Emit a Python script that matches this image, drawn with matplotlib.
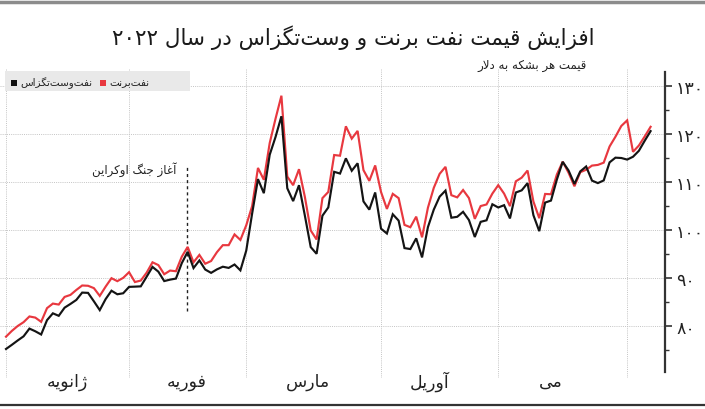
import re
import numpy as np
import pandas as pd
import matplotlib
matplotlib.use("Agg")
import matplotlib.pyplot as plt
import matplotlib.transforms as mtransforms
from matplotlib.lines import Line2D
from matplotlib.patches import Rectangle

# ---------------- data ----------------
trading_days = pd.bdate_range("2021-12-31", "2022-06-06").drop(pd.Timestamp("2022-04-15"))

brent = [77.78, 78.98, 80.00, 80.80, 81.99, 81.75, 80.87, 83.72, 84.67, 84.47,
         86.06, 86.48, 87.51, 88.44, 88.38, 87.89, 86.27, 88.20, 89.96, 89.34,
         90.03, 91.21, 89.16, 89.47, 91.11, 93.27, 92.69, 90.78, 91.55, 91.41,
         94.44, 96.48, 93.28, 94.81, 92.97, 93.54, 95.39, 96.84, 96.84, 99.08,
         97.93, 100.99, 104.97, 112.93, 110.46, 118.11, 123.21, 127.98, 111.14, 109.33,
         112.67, 106.90, 99.91, 98.02, 106.64, 107.93, 115.62, 115.48, 121.60, 119.03,
         120.65, 112.48, 110.23, 113.45, 107.91, 104.39, 107.53, 106.64, 101.07, 100.58,
         102.78, 98.48, 104.64, 108.78, 111.70, 113.16, 107.25, 106.80, 108.33, 106.65,
         102.32, 104.99, 105.32, 107.59, 109.34, 107.58, 104.97, 110.14, 110.90, 112.39,
         105.94, 102.46, 107.51, 107.45, 111.55, 114.24, 111.93, 109.11, 112.04, 112.55,
         113.42, 113.56, 114.03, 117.40, 119.43, 121.67, 122.84, 116.29, 117.60, 119.50,
         121.50]

wti = [75.21, 76.08, 76.99, 77.85, 79.46, 78.90, 78.23, 81.22, 82.64, 82.12,
       83.82, 84.60, 85.43, 86.96, 86.90, 85.14, 83.31, 85.60, 87.35, 86.61,
       86.82, 88.15, 88.20, 88.26, 90.27, 92.31, 91.32, 89.36, 89.66, 89.88,
       93.10, 95.46, 92.07, 93.66, 91.76, 91.07, 91.80, 92.35, 92.10, 92.81,
       91.59, 95.72, 103.41, 110.60, 107.67, 115.68, 119.40, 123.70, 108.70, 106.02,
       109.33, 103.01, 96.44, 95.04, 102.98, 104.70, 112.12, 111.76, 114.93, 112.34,
       113.90, 105.96, 104.24, 107.82, 100.28, 99.27, 103.28, 101.96, 96.23, 96.03,
       98.26, 94.29, 100.60, 104.25, 106.95, 108.21, 102.56, 102.75, 103.79, 102.07,
       98.54, 101.70, 102.02, 105.36, 104.69, 105.17, 102.41, 107.81, 108.26, 109.77,
       103.09, 99.76, 105.71, 106.13, 110.49, 114.20, 112.40, 109.59, 112.21, 113.23,
       110.29, 109.77, 110.33, 114.09, 115.07, 115.00, 114.67, 115.26, 116.50, 118.60,
       120.60]

months = ["ژانویه", "فوریه", "مارس", "آوریل", "می"]
y_ticks = [80, 90, 100, 110, 120, 130]
y_tick_labels = ["۸۰", "۹۰", "۱۰۰", "۱۱۰", "۱۲۰", "۱۳۰"]
title_text = "افزایش قیمت نفت برنت و وست‌تگزاس در سال ۲۰۲۲"
unit_text = "قیمت هر بشکه به دلار"
label_brent = "نفت‌برنت"
label_wti = "نفت‌وست‌تگزاس"
war_text = "آغاز جنگ اوکراین"

# ---------------- simple Persian shaping (visual order) ----------------
FORMS = {
    '\u0622': ('\uFE81', '\uFE82', None, None),
    '\u0627': ('\uFE8D', '\uFE8E', None, None),
    '\u0628': ('\uFE8F', '\uFE90', '\uFE91', '\uFE92'),
    '\u067E': ('\uFB56', '\uFB57', '\uFB58', '\uFB59'),
    '\u062A': ('\uFE95', '\uFE96', '\uFE97', '\uFE98'),
    '\u062C': ('\uFE9D', '\uFE9E', '\uFE9F', '\uFEA0'),
    '\u0686': ('\uFB7A', '\uFB7B', '\uFB7C', '\uFB7D'),
    '\u062F': ('\uFEA9', '\uFEAA', None, None),
    '\u0631': ('\uFEAD', '\uFEAE', None, None),
    '\u0632': ('\uFEAF', '\uFEB0', None, None),
    '\u0698': ('\uFB8A', '\uFB8B', None, None),
    '\u0633': ('\uFEB1', '\uFEB2', '\uFEB3', '\uFEB4'),
    '\u0634': ('\uFEB5', '\uFEB6', '\uFEB7', '\uFEB8'),
    '\u063A': ('\uFECD', '\uFECE', '\uFECF', '\uFED0'),
    '\u0641': ('\uFED1', '\uFED2', '\uFED3', '\uFED4'),
    '\u0642': ('\uFED5', '\uFED6', '\uFED7', '\uFED8'),
    '\u06A9': ('\uFB8E', '\uFB8F', '\uFB90', '\uFB91'),
    '\u06AF': ('\uFB92', '\uFB93', '\uFB94', '\uFB95'),
    '\u0644': ('\uFEDD', '\uFEDE', '\uFEDF', '\uFEE0'),
    '\u0645': ('\uFEE1', '\uFEE2', '\uFEE3', '\uFEE4'),
    '\u0646': ('\uFEE5', '\uFEE6', '\uFEE7', '\uFEE8'),
    '\u0647': ('\uFEE9', '\uFEEA', '\uFEEB', '\uFEEC'),
    '\u0648': ('\uFEED', '\uFEEE', None, None),
    '\u06CC': ('\uFBFC', '\uFBFD', '\uFBFE', '\uFBFF'),
}
LAM_ALEF = {'\u0627': ('\uFEFB', '\uFEFC'), '\u0622': ('\uFEF5', '\uFEF6')}


def _joins_next(c):
    return c in FORMS and FORMS[c][2] is not None


def _shape(s):
    s = s.replace('\u064A', '\u06CC').replace('\u0643', '\u06A9')
    out, i, n = [], 0, len(s)
    while i < n:
        c = s[i]
        if c not in FORMS:
            out.append(c)
            i += 1
            continue
        prev = s[i - 1] if i > 0 else ''
        cp = _joins_next(prev)
        if c == '\u0644' and i + 1 < n and s[i + 1] in LAM_ALEF:
            lig = LAM_ALEF[s[i + 1]]
            out.append(lig[1] if cp else lig[0])
            i += 2
            continue
        nxt = s[i + 1] if i + 1 < n else ''
        cn = _joins_next(c) and nxt in FORMS
        iso, fin, ini, med = FORMS[c]
        out.append(med if (cp and cn) else fin if cp else ini if cn else iso)
        i += 1
    return ''.join(out).replace('\u200c', '')


def fa(s):
    shaped = _shape(s)
    toks = re.findall(r'[0-9\u06F0-\u06F9]+|[^0-9\u06F0-\u06F9]+', shaped)
    res = []
    for t in reversed(toks):
        res.append(t if re.match(r'[0-9\u06F0-\u06F9]', t) else t[::-1])
    return ''.join(res)


plt.rcParams['font.family'] = ['DejaVu Sans']

# ---------------- figure ----------------
W, H = 705, 410
fig = plt.figure(figsize=(W / 100, H / 100), dpi=100)
fig.patch.set_facecolor('white')


def fx(px):
    return px / W


def fy(py):
    return 1 - py / H


ax_top, ax_bot, ax_right = 70, 379, 665
ax = fig.add_axes([0, fy(ax_bot), fx(ax_right), (ax_bot - ax_top) / H])

x = np.arange(len(trading_days))
ax.plot(x, brent, color='#e8383f', lw=1.55, solid_joinstyle='miter', zorder=3)
ax.plot(x, wti, color='#141414', lw=1.55, solid_joinstyle='miter', zorder=4)

# month-end gridlines
s = pd.Series(x, index=trading_days)
month_ends = s.groupby(trading_days.to_period('M')).max().values[:-1]
ax.set_xticks(month_ends)
ax.set_xticklabels([])
ax.tick_params(axis='x', length=0)

px_per_day = 5.86
ax.set_xlim(-6 / px_per_day, (ax_right - 6) / px_per_day)
ppu = 4.8  # pixels per dollar
ax.set_ylim(80 - (ax_bot - 327) / ppu, 130 + (87 - ax_top) / ppu)

ax.grid(True, which='major', color='#c4c4c4', lw=0.7, linestyle=(0, (1, 1.2)))
ax.set_axisbelow(True)

for sp in ['left', 'top', 'bottom']:
    ax.spines[sp].set_visible(False)
ax.spines['right'].set_color('#333333')
ax.spines['right'].set_linewidth(1.6)
ax.spines['right'].set_bounds(70.4, 133.0)

ax.yaxis.tick_right()
ax.set_yticks(y_ticks)
ax.set_yticklabels(y_tick_labels)
ax.set_yticks([75, 85, 95, 105, 115, 125], minor=True)
ax.tick_params(axis='y', which='major', direction='out', length=5, width=1.2,
               color='#333333', labelsize=12.5, pad=3, labelcolor='#222222')
ax.tick_params(axis='y', which='minor', direction='out', length=3, width=1,
               color='#333333')

# month labels
month_pos = [10.4, 30.9, 51.5, 72.2, 93.0]
mtrans = mtransforms.blended_transform_factory(ax.transData, fig.transFigure)
for m, p in zip(months, month_pos):
    ax.text(p, fy(382), fa(m), transform=mtrans,
            ha='center', va='center', fontsize=12.5, color='#222222')

# war annotation
war_idx = 30.9
ax.plot([war_idx, war_idx], [83.1, 113.1], color='#222222', lw=1.0,
        linestyle=(0, (2.2, 2.2)), zorder=2)
fig.text(fx(176), fy(170), fa(war_text), ha='right', va='center',
         fontsize=8.5, color='#222222')

# title and unit
fig.text(fx(353), fy(38), fa(title_text), ha='center', va='center',
         fontsize=15.5, color='#1a1a1a')
fig.text(fx(587), fy(65), fa(unit_text), ha='right', va='center',
         fontsize=8.5, color='#222222')

# legend
fig.patches.append(Rectangle((fx(5), fy(92)), fx(190) - fx(5), (92 - 72) / H,
                             transform=fig.transFigure, facecolor='#e9e9e9',
                             edgecolor='none', zorder=1))
fig.patches.append(Rectangle((fx(11), fy(87)), fx(6), 6 / H, transform=fig.transFigure,
                             facecolor='#111111', edgecolor='none', zorder=2))
fig.text(fx(20), fy(83), fa(label_wti), ha='left', va='center', fontsize=7.5,
         color='#222222')
fig.patches.append(Rectangle((fx(100), fy(87)), fx(6), 6 / H, transform=fig.transFigure,
                             facecolor='#e8383f', edgecolor='none', zorder=2))
fig.text(fx(109), fy(83), fa(label_brent), ha='left', va='center', fontsize=7.5,
         color='#222222')

# frame lines
fig.add_artist(Line2D([0, 1], [fy(3), fy(3)], color='#8c8c8c', lw=2.5))
fig.add_artist(Line2D([0, 1], [fy(406), fy(406)], color='#333333', lw=1.6))

fig.savefig('out.png', dpi=100, facecolor='white')
